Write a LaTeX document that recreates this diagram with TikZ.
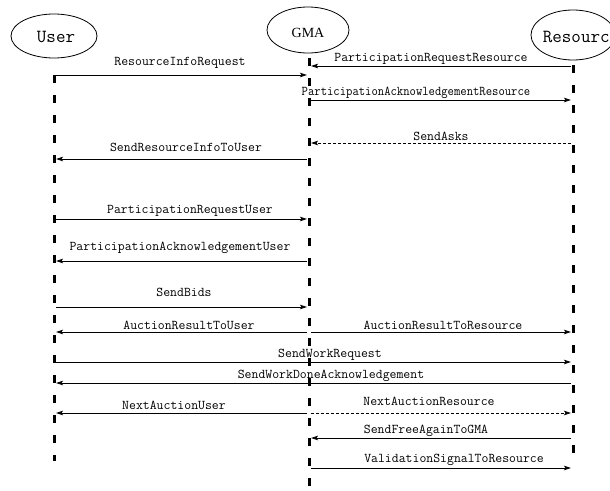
\documentclass[tikz,border=0pt]{standalone}
\usepackage{fontspec}
\setmainfont{Liberation Serif}
\usetikzlibrary{arrows.meta,shapes.geometric}
\begin{document}
\begin{tikzpicture}[x=1pt,y=-1pt,
  actor/.style={draw,ellipse,line width=0.8pt,inner sep=0pt},
  life/.style={line width=3pt,dash pattern=on 8pt off 12pt},
  msg/.style={line width=0.8pt,-{Stealth[length=7pt,width=4.5pt,inset=1.5pt]},shorten >=2pt,shorten <=2pt},
  dmsg/.style={msg,dash pattern=on 3pt off 2pt},
  lab/.style={inner sep=0pt,font=\fontsize{13.4}{14}\selectfont\ttfamily}]
\useasboundingbox (0,0) rectangle (610,490);
% actors
\node[actor,minimum width=86pt,minimum height=44pt] (user) at (54,36) {};
\node[font=\fontsize{18.5}{20}\selectfont\ttfamily] (usert) at (56,37) {User};
\node[actor,minimum width=82pt,minimum height=46pt] (gma) at (308,30) {};
\node[font=\fontsize{14}{16}\selectfont\rmfamily] (gmat) at (308,33) {GMA};
\node[actor,minimum width=84pt,minimum height=50pt] (res) at (573,35) {};
\node[font=\fontsize{18.5}{20}\selectfont\ttfamily] (rest) at (581,37) {Resource};
% lifelines
\coordinate (Ut) at (54,75);  \coordinate (Ub) at (54,461);
\coordinate (Gt) at (309,58); \coordinate (Gb) at (309,490);
\coordinate (Rt) at (573,65); \coordinate (Rb) at (573,461);
\draw[life] (Ut) -- (Ub);
\draw[life] (Gt) -- (Gb);
\draw[life] (Rt) -- (Rb);
% messages
\draw[msg] (Ut |- 0,75) -- (Gt |- 0,75);
\node[lab] (m1) at (180,63) {ResourceInfoRequest};
\draw[msg] (Rt |- 0,66) -- (Gt |- 0,66);
\node[lab] (m2) at (431,59) {ParticipationRequestResource};
\draw[msg] (Gt |- 0,100) -- (Rt |- 0,100);
\node[lab] (m3) at (416,93) {\scalebox{0.92}[1]{ParticipationAcknowledgementResource}};
\draw[dmsg] (Rt |- 0,143) -- (Gt |- 0,143);
\node[lab] (m4) at (441,136) {SendAsks};
\draw[msg] (Gt |- 0,159) -- (Ut |- 0,159);
\node[lab] (m5) at (186,147) {SendResourceInfoToUser};
\draw[msg] (Ut |- 0,219) -- (Gt |- 0,219);
\node[lab] (m6) at (190,211) {ParticipationRequestUser};
\draw[msg] (Gt |- 0,261) -- (Ut |- 0,261);
\node[lab] (m7) at (180,248) {ParticipationAcknowledgementUser};
\draw[msg] (Ut |- 0,307) -- (Gt |- 0,307);
\node[lab] (m8) at (184,292) {SendBids};
\draw[msg] (Gt |- 0,332) -- (Ut |- 0,332);
\node[lab] (m9) at (189,325) {AuctionResultToUser};
\draw[msg] (Gt |- 0,332) -- (Rt |- 0,332);
\node[lab] (m10) at (443,325) {AuctionResultToResource};
\draw[msg] (Ut |- 0,362) -- (Rt |- 0,362);
\node[lab] (m11) at (330,355) {SendWorkRequest};
\draw[msg] (Rt |- 0,383) -- (Ut |- 0,383);
\node[lab] (m12) at (331,376) {SendWorkDoneAcknowledgement};
\draw[msg] (Gt |- 0,413) -- (Ut |- 0,413);
\node[lab] (m13) at (174,405) {NextAuctionUser};
\draw[dmsg] (Gt |- 0,413) -- (Rt |- 0,413);
\node[lab] (m14) at (429,401) {NextAuctionResource};
\draw[msg] (Rt |- 0,438) -- (Gt |- 0,438);
\node[lab] (m15) at (426,431) {SendFreeAgainToGMA};
\draw[msg] (Gt |- 0,468) -- (Rt |- 0,468);
\node[lab] (m16) at (454,460) {ValidationSignalToResource};
\end{tikzpicture}
\end{document}
